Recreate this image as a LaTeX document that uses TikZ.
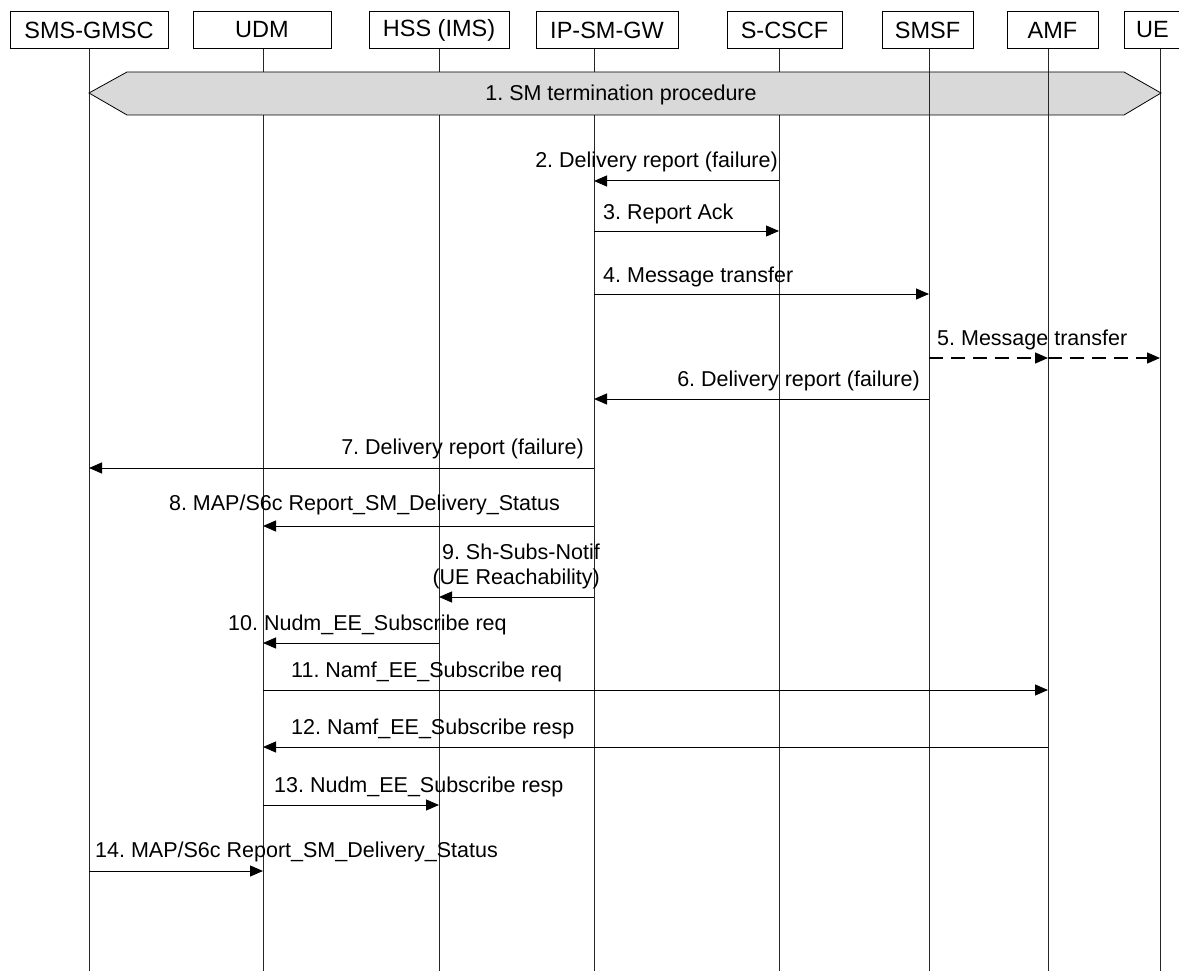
\documentclass[tikz,border=0pt]{standalone}
\usepackage{fontspec}
\setmainfont{Liberation Sans}
\usetikzlibrary{arrows.meta}
\begin{document}
\frenchspacing
\begin{tikzpicture}[x=1pt,y=-1pt,
  hdr/.style={draw, line width=0.8pt, minimum height=37pt, inner sep=0pt, font=\fontsize{23.5}{26}\selectfont},
  life/.style={line width=0.7pt, draw=black!85},
  msg/.style={line width=1pt, -{Triangle[length=13pt,width=11pt]}},
  dmsg/.style={msg, dash pattern=on 14pt off 8pt, line width=1.3pt},
  lbl/.style={font=\fontsize{21.5}{25}\selectfont, inner sep=0pt},
  banner/.style={draw, line width=0.8pt, fill=black!15}]
\useasboundingbox (0,0) rectangle (1179,971);
% headers
\node[hdr, minimum width=158pt] (gmsc) at (89,30) {SMS-GMSC};
\node[hdr, minimum width=138pt] (udm) at (262,30) {UDM};
\node[hdr, minimum width=140pt] (hss) at (439,30) {HSS (IMS)};
\node[hdr, minimum width=142pt] (ipsm) at (607,30) {IP-SM-GW};
\node[hdr, minimum width=115pt] (cscf) at (784.5,30) {S-CSCF};
\node[hdr, minimum width=91pt] (smsf) at (927.5,30) {SMSF};
\node[hdr, minimum width=91pt] (amf) at (1052.5,30) {AMF};
\node[hdr, minimum width=70pt, anchor=west] (ue) at (1124,30) {\hspace*{-14pt}UE};
% lifeline bottoms
\coordinate (gmscB) at (89,971);
\coordinate (udmB) at (263,971);
\coordinate (hssB) at (439,971);
\coordinate (ipsmB) at (594,971);
\coordinate (cscfB) at (779,971);
\coordinate (smsfB) at (929,971);
\coordinate (amfB) at (1048,971);
\coordinate (ueB) at (1160,971);
\draw[life] (gmsc.south -| gmscB) -- (gmscB);
\draw[life] (udm.south -| udmB) -- (udmB);
\draw[life] (hss.south -| hssB) -- (hssB);
\draw[life] (ipsm.south -| ipsmB) -- (ipsmB);
\draw[life] (cscf.south -| cscfB) -- (cscfB);
\draw[life] (ue.south -| ueB) -- (ueB);
% 1. banner
\draw[banner] (89,93) -- (127,72) -- (1124,72) -- (1161,93) -- (1124,115) -- (127,115) -- cycle;
\node[lbl] (l1) at (621,95) {1. SM termination procedure};
\draw[life] (smsf.south -| smsfB) -- (smsfB);
\draw[life] (amf.south -| amfB) -- (amfB);
% 2
\coordinate (m2a) at (779,181); \coordinate (m2b) at (594,181);
\draw[msg] (m2a) -- (m2b);
\node[lbl, anchor=base east] (l2) at (778,168) {2. Delivery report (failure)};
% 3
\coordinate (m3a) at (594,231); \coordinate (m3b) at (779,231);
\draw[msg] (m3a) -- (m3b);
\node[lbl, anchor=base west] (l3) at (603,219) {3. Report Ack};
% 4
\coordinate (m4a) at (594,294); \coordinate (m4b) at (929,294);
\draw[msg] (m4a) -- (m4b);
\node[lbl, anchor=base west] (l4) at (603,282) {4. Message transfer};
% 5
\coordinate (m5a) at (929,358); \coordinate (m5b) at (1048,358); \coordinate (m5c) at (1160,358);
\draw[dmsg] (m5a) -- (m5b);
\draw[dmsg] (m5b) -- (m5c);
\node[lbl, anchor=base west] (l5) at (937,345) {5. Message transfer};
% 6
\coordinate (m6a) at (929,399); \coordinate (m6b) at (594,399);
\draw[msg] (m6a) -- (m6b);
\node[lbl, anchor=base east] (l6) at (920,386) {6. Delivery report (failure)};
% 7
\coordinate (m7a) at (594,468); \coordinate (m7b) at (89,468);
\draw[msg] (m7a) -- (m7b);
\node[lbl, anchor=base east] (l7) at (584,454) {7. Delivery report (failure)};
% 8
\coordinate (m8a) at (594,526); \coordinate (m8b) at (263,526);
\draw[msg] (m8a) -- (m8b);
\node[lbl, anchor=base east] (l8) at (560,510) {8. MAP/S6c Report\_SM\_Delivery\_Status};
% 9
\coordinate (m9a) at (594,597); \coordinate (m9b) at (439,597);
\draw[msg] (m9a) -- (m9b);
\node[lbl, anchor=base east] (l9a) at (600,559) {9. Sh-Subs-Notif};
\node[lbl, anchor=base east] (l9b) at (600,584) {(UE Reachability)};
% 10
\coordinate (m10a) at (439,643); \coordinate (m10b) at (263,643);
\draw[msg] (m10a) -- (m10b);
\node[lbl, anchor=base west] (l10) at (228,630) {10. Nudm\_EE\_Subscribe req};
% 11
\coordinate (m11a) at (263,690); \coordinate (m11b) at (1048,690);
\draw[msg] (m11a) -- (m11b);
\node[lbl, anchor=base west] (l11) at (291,677) {11. Namf\_EE\_Subscribe req};
% 12
\coordinate (m12a) at (1048,747); \coordinate (m12b) at (263,747);
\draw[msg] (m12a) -- (m12b);
\node[lbl, anchor=base west] (l12) at (291,734) {12. Namf\_EE\_Subscribe resp};
% 13
\coordinate (m13a) at (263,805); \coordinate (m13b) at (439,805);
\draw[msg] (m13a) -- (m13b);
\node[lbl, anchor=base west] (l13) at (274,792) {13. Nudm\_EE\_Subscribe resp};
% 14
\coordinate (m14a) at (89,871); \coordinate (m14b) at (263,871);
\draw[msg] (m14a) -- (m14b);
\node[lbl, anchor=base west] (l14) at (95,857) {14. MAP/S6c Report\_SM\_Delivery\_Status};
\end{tikzpicture}
\end{document}
